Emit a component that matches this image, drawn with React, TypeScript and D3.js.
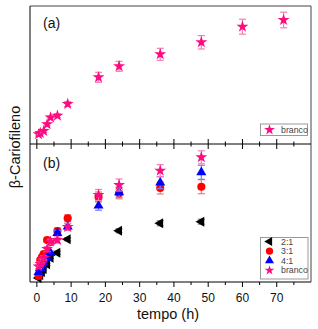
import React from "react";
import * as d3 from "d3";

// ---- data ----
const topTimes = [0.5, 1, 2, 3, 4, 6, 9, 18, 24, 36, 48, 60, 72];
const topBranco = [9.7, 11, 13, 19.7, 26.5, 28.3, 40, 66.7, 77.7, 89.7, 101.7, 117.3, 124];
const topBrancoErr = [1.5, 1.5, 1.5, 1.5, 1.5, 2, 2.5, 5, 5, 6, 6.7, 7.5, 7.8];

const botTimes = [0.5, 1, 1.5, 2, 3, 4, 6, 9, 18, 24, 36, 48];
const s21 = [4, 7, 10, 13, 17.7, 24.3, 29.3, 42.7, NaN, 51.3, 58.7, 60.3];
const s31 = [6, 22, 25, 28, 42, 40, 51, 63.7, 85, 88.7, 94, 95.3];
const s41 = [10, 14, 16.5, 19, 24, 29, 49, 55.3, 76.3, 89.7, 99.3, 109.7];
const sBranco = [15.5, 18, 21, 24, 33, 40.3, 42, 55, 87, 97, 111.3, 124.7];
const err21 = [1, 1, 1, 1, 1, 1, 1.5, 1.5, 0, 2, 2.5, 2.5];
const err31 = [1.5, 1.5, 1.5, 2, 2, 2, 3, 3.5, 5, 5.5, 6, 7];
const err41 = [1.5, 1.5, 1.5, 1.5, 2, 2, 2.5, 3, 4.5, 5, 6, 7];
const errBranco = [2, 2, 2, 2, 2.5, 2.5, 3, 3.5, 5.5, 6, 6, 6.5];

const xMajor = [0, 10, 20, 30, 40, 50, 60, 70];
const xMinor = [5, 15, 25, 35, 45, 55, 65, 75];
const legendLabels = ["2:1", "3:1", "4:1", "branco"];

const W = 318, H = 329;
const L = 30, R = 311, T = 6, MID = 144, B = 282;

const x = d3.scaleLinear().domain([-2, 80]).range([L, R]);
const yTop = d3.scaleLinear().domain([0, 138]).range([MID, T]);
const yBot = d3.scaleLinear().domain([0, 138]).range([B, MID]);

const PINK = "#ff0a80";
const PINK_E = "#f27fb3";
const RED = "#ff0000";
const RED_E = "#ee7a7a";
const BLUE = "#0000ff";
const BLUE_E = "#7a7aff";
const BLACK = "#000000";

const star = d3.symbol().type(d3.symbolStar).size(44)()!;
const circle = d3.symbol().type(d3.symbolCircle).size(52)()!;
const tri = d3.symbol().type(d3.symbolTriangle).size(44)()!;

type Series = { vals: number[]; errs: number[]; path: string; rot: number; color: string; ecolor: string };

function Points({ times, s, y }: { times: number[]; s: Series; y: d3.ScaleLinear<number, number> }) {
  return (
    <g>
      {times.map((t, i) => {
        const v = s.vals[i];
        if (!isFinite(v)) return null;
        const cx = x(t), cy = y(v);
        const e = s.errs[i];
        const y1 = y(v + e), y2 = y(v - e);
        return (
          <g key={i}>
            {e > 0 && (
              <g stroke={s.ecolor} strokeWidth={1.2}>
                <line x1={cx} x2={cx} y1={y1} y2={y2} />
                <line x1={cx - 3.5} x2={cx + 3.5} y1={y1} y2={y1} />
                <line x1={cx - 3.5} x2={cx + 3.5} y1={y2} y2={y2} />
              </g>
            )}
            <path d={s.path} transform={`translate(${cx},${cy}) rotate(${s.rot})`} fill={s.color} />
          </g>
        );
      })}
    </g>
  );
}

export default function App() {
  const seriesBot: Series[] = [
    { vals: s21, errs: err21, path: tri, rot: -90, color: BLACK, ecolor: "#888" },
    { vals: s31, errs: err31, path: circle, rot: 0, color: RED, ecolor: RED_E },
    { vals: s41, errs: err41, path: tri, rot: 0, color: BLUE, ecolor: BLUE_E },
    { vals: sBranco, errs: errBranco, path: star, rot: 0, color: PINK, ecolor: PINK_E },
  ];
  const seriesTop: Series = { vals: topBranco, errs: topBrancoErr, path: star, rot: 0, color: PINK, ecolor: PINK_E };
  const font = "Arial, 'Liberation Sans', sans-serif";
  const legendStar = d3.symbol().type(d3.symbolStar).size(36)()!;
  const legendPaths = [tri, circle, tri, legendStar];

  return (
    <svg width={W} height={H} style={{ position: "absolute", left: 0, top: 0, background: "#fff" }} fontFamily={font}>
      <rect x={0} y={0} width={W} height={H} fill="#fff" />
      {/* frames */}
      <line x1={L} x2={R} y1={T} y2={T} stroke="#444" strokeWidth={1} />
      <line x1={R} x2={R} y1={T} y2={B} stroke="#444" strokeWidth={1} />
      <line x1={L} x2={L} y1={T} y2={B} stroke="#000" strokeWidth={1} />
      <line x1={L} x2={R} y1={MID} y2={MID} stroke="#000" strokeWidth={1} />
      <line x1={L} x2={R} y1={B} y2={B} stroke="#000" strokeWidth={1} />

      {/* middle ticks */}
      {xMajor.map((t) => (
        <line key={"mm" + t} x1={x(t)} x2={x(t)} y1={MID - 5} y2={MID + 5} stroke="#000" />
      ))}
      {xMinor.map((t) => (
        <line key={"mn" + t} x1={x(t)} x2={x(t)} y1={MID - 2.5} y2={MID + 2.5} stroke="#000" />
      ))}
      {/* bottom ticks */}
      {xMajor.map((t) => (
        <line key={"bm" + t} x1={x(t)} x2={x(t)} y1={B} y2={B + 5} stroke="#000" />
      ))}
      {xMinor.map((t) => (
        <line key={"bn" + t} x1={x(t)} x2={x(t)} y1={B} y2={B + 3} stroke="#000" />
      ))}
      {xMajor.map((t) => (
        <text key={"bl" + t} x={x(t)} y={301.5} fontSize={12} textAnchor="middle" fill="#111">
          {t}
        </text>
      ))}

      <text x={168} y={319} fontSize={14.5} textAnchor="middle" fill="#111">tempo (h)</text>
      <text transform={`translate(20,147) rotate(-90)`} fontSize={14.5} textAnchor="middle" fill="#111">β-Cariofileno</text>

      <text x={43} y={28} fontSize={14} fill="#111">(a)</text>
      <text x={43} y={168} fontSize={14} fill="#111">(b)</text>

      {/* top panel */}
      <Points times={topTimes} s={seriesTop} y={yTop} />

      {/* bottom panel */}
      {seriesBot.map((s, i) => (
        <Points key={i} times={botTimes} s={s} y={yBot} />
      ))}

      {/* top legend */}
      <rect x={260.5} y={124} width={47} height={11.5} fill="#fff" stroke="#999" />
      <path d={legendStar} transform={`translate(269.5,129.8)`} fill={PINK} />
      <text x={281} y={132.8} fontSize={8.8} fill="#444">branco</text>

      {/* bottom legend */}
      <rect x={260.5} y={237.5} width={47.5} height={41.5} fill="#fff" stroke="#999" />
      {legendLabels.map((lab, i) => {
        const s = seriesBot[i];
        const cy = 241.5 + i * 9.6;
        return (
          <g key={lab}>
            <path d={legendPaths[i]} transform={`translate(269.5,${cy}) rotate(${s.rot}) scale(0.9)`} fill={s.color} />
            <text x={281} y={cy + 3} fontSize={8.8} fill="#444">{lab}</text>
          </g>
        );
      })}
    </svg>
  );
}
